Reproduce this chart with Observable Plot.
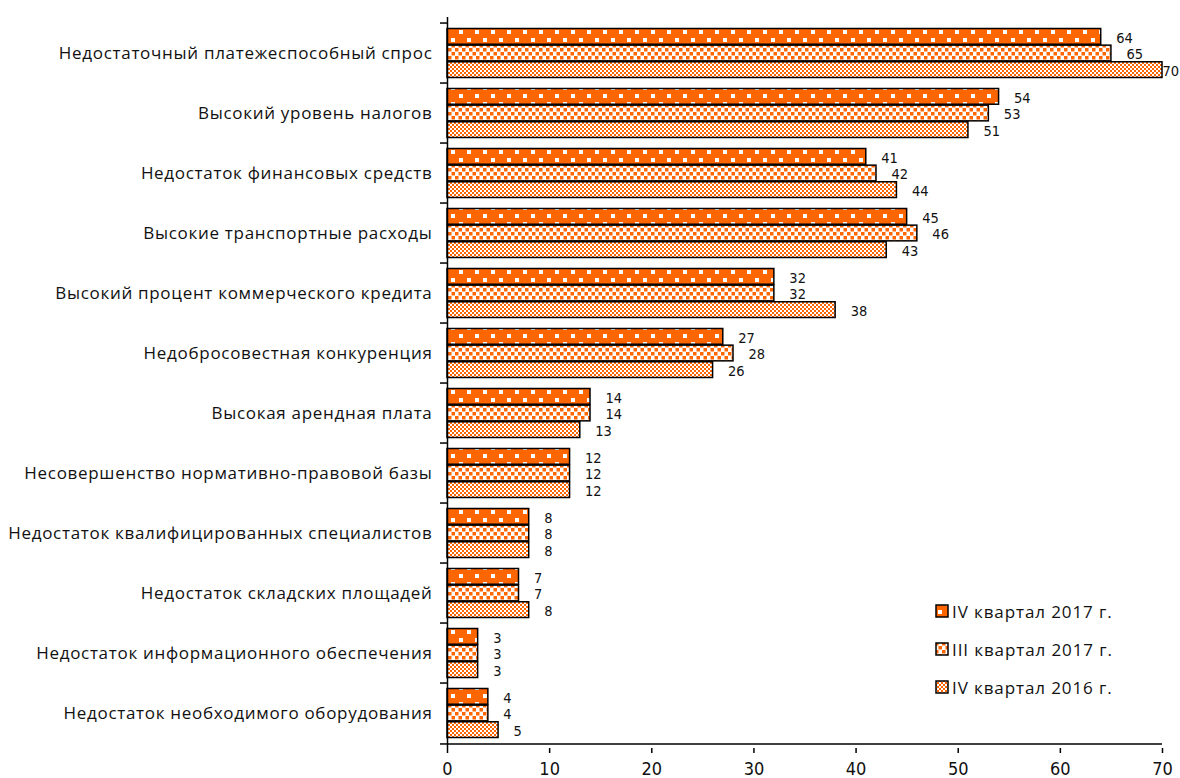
<!DOCTYPE html>
<html>
<head>
<meta charset="utf-8">
<script src="https://cdn.jsdelivr.net/npm/d3@7"></script>
<script src="https://cdn.jsdelivr.net/npm/@observablehq/plot@0.6"></script>
<style>
  body { margin: 0; background: #fff; }
  #wrap { position: relative; width: 1180px; height: 778px; }
  #legend { position: absolute; left: 935px; top: 592px; font-family: "Open Sans", sans-serif; font-size: 17px; letter-spacing: 0.9px; color: #111; }
  #legend .row { display: flex; align-items: center; height: 38px; }
  #legend svg { margin-right: 2px; }
  g[aria-label="y-axis tick label"] text { letter-spacing: 0.7px; }
</style>
</head>
<body>
<div id="wrap"><div id="legend"></div></div>
<script>
const categories = [
  "Недостаточный платежеспособный спрос",
  "Высокий уровень налогов",
  "Недостаток финансовых средств",
  "Высокие транспортные расходы",
  "Высокий процент коммерческого кредита",
  "Недобросовестная конкуренция",
  "Высокая арендная плата",
  "Несовершенство нормативно-правовой базы",
  "Недостаток квалифицированных специалистов",
  "Недостаток складских площадей",
  "Недостаток информационного обеспечения",
  "Недостаток необходимого оборудования"
];
const seriesNames = ["IV квартал 2017 г.", "III квартал 2017 г.", "IV квартал 2016 г."];
const q4_2017 = [64, 54, 41, 45, 32, 27, 14, 12, 8, 7, 3, 4];
const q3_2017 = [65, 53, 42, 46, 32, 28, 14, 12, 8, 7, 3, 4];
const q4_2016 = [70, 51, 44, 43, 38, 26, 13, 12, 8, 8, 3, 5];
const xTicks = [0, 10, 20, 30, 40, 50, 60, 70];

const seriesValues = [q4_2017, q3_2017, q4_2016];
const patternIds = ["pat0", "pat1", "pat2"];

const W = 1180, H = 778, mTop = 17, mBottom = 30, mLeft = 447, mRight = 18;
const xMax = 70;
const band = (H - mTop - mBottom) / categories.length;
const pad = 5.5;
const barH = (band - 2 * pad) / 3;

const narrow = '"DejaVu Sans Condensed", "Liberation Sans Narrow", sans-serif';

const marks = [];
seriesValues.forEach((vals, i) => {
  const data = categories.map((c, j) => ({category: c, value: vals[j]}));
  marks.push(Plot.barX(data, {
    x: "value", y: "category",
    fill: `url(#${patternIds[i]})`,
    stroke: "#000", strokeWidth: 1.5,
    insetTop: pad + i * barH,
    insetBottom: band - pad - (i + 1) * barH
  }));
  const labelOpts = {
    x: "value", y: "category", text: d => String(d.value),
    dy: -band / 2 + pad + (i + 0.5) * barH + 1,
    textAnchor: "start", fontSize: 14.5, fontFamily: narrow, fill: "#111"
  };
  // labels at the right edge sit against the bar end, like the original
  marks.push(Plot.text(data.filter(d => d.value < xMax - 2), {...labelOpts, dx: 15}));
  marks.push(Plot.text(data.filter(d => d.value >= xMax - 2), {...labelOpts, dx: 0}));
});
// axis lines
marks.push(Plot.ruleX([0], {stroke: "#000", strokeWidth: 1.5}));
marks.push(Plot.ruleY([categories[categories.length - 1]], {y: d => d, x1: 0, x2: xMax, dy: band / 2, stroke: "#000", strokeWidth: 1.5}));
// boundary ticks on the y axis
marks.push(Plot.ruleY(categories, {y: d => d, x1: 0, x2: 0, insetLeft: -7, dy: -band / 2, stroke: "#000", strokeWidth: 1.5}));
marks.push(Plot.ruleY([categories[categories.length - 1]], {y: d => d, x1: 0, x2: 0, insetLeft: -7, dy: band / 2, stroke: "#000", strokeWidth: 1.5}));
marks.push(Plot.axisY({tickSize: 0, tickPadding: 15, fontSize: 17, fontFamily: '"Open Sans", sans-serif', label: null, fill: "#111"}));
marks.push(Plot.axisX({ticks: xTicks, tickSize: 5, tickPadding: 9, fontSize: 18, fontFamily: narrow, label: null, stroke: "#000", strokeWidth: 1.5, fill: "#111"}));

const svg = Plot.plot({
  width: W, height: H,
  marginTop: mTop, marginBottom: mBottom, marginLeft: mLeft, marginRight: mRight,
  x: {domain: [0, xMax]},
  y: {domain: categories, padding: 0},
  marks
});

d3.select(svg).insert("defs", ":first-child").html(`
  <pattern id="pat0" patternUnits="userSpaceOnUse" width="16" height="16">
    <rect width="16" height="16" fill="#FF6600"/>
    <rect x="3" y="6" width="4" height="4" fill="#fff"/>
    <rect x="11" y="14" width="4" height="4" fill="#fff"/>
    <rect x="11" y="-2" width="4" height="4" fill="#fff"/>
  </pattern>
  <pattern id="pat1" patternUnits="userSpaceOnUse" width="7" height="8">
    <rect width="7" height="8" fill="#fff"/>
    <rect x="0" y="0" width="3.5" height="3.5" fill="#FF6600"/>
    <rect x="3.5" y="4" width="3.5" height="3.5" fill="#FF6600"/>
  </pattern>
  <pattern id="pat2" patternUnits="userSpaceOnUse" width="4" height="4">
    <rect width="4" height="4" fill="#fff"/>
    <rect x="0" y="0" width="2" height="2" fill="#FF6600"/>
    <rect x="2" y="2" width="2" height="2" fill="#FF6600"/>
  </pattern>
`);

document.getElementById("wrap").insertBefore(svg, document.getElementById("legend"));

const legend = d3.select("#legend");
seriesNames.forEach((name, i) => {
  const row = legend.append("div").attr("class", "row");
  const s = row.append("svg").attr("width", 15).attr("height", 15);
  s.append("rect").attr("x", 1).attr("y", 1).attr("width", 12).attr("height", 12)
    .attr("fill", `url(#${patternIds[i]})`).attr("stroke", "#000").attr("stroke-width", 1.5);
  row.append("span").text(name);
});
</script>
</body>
</html>
